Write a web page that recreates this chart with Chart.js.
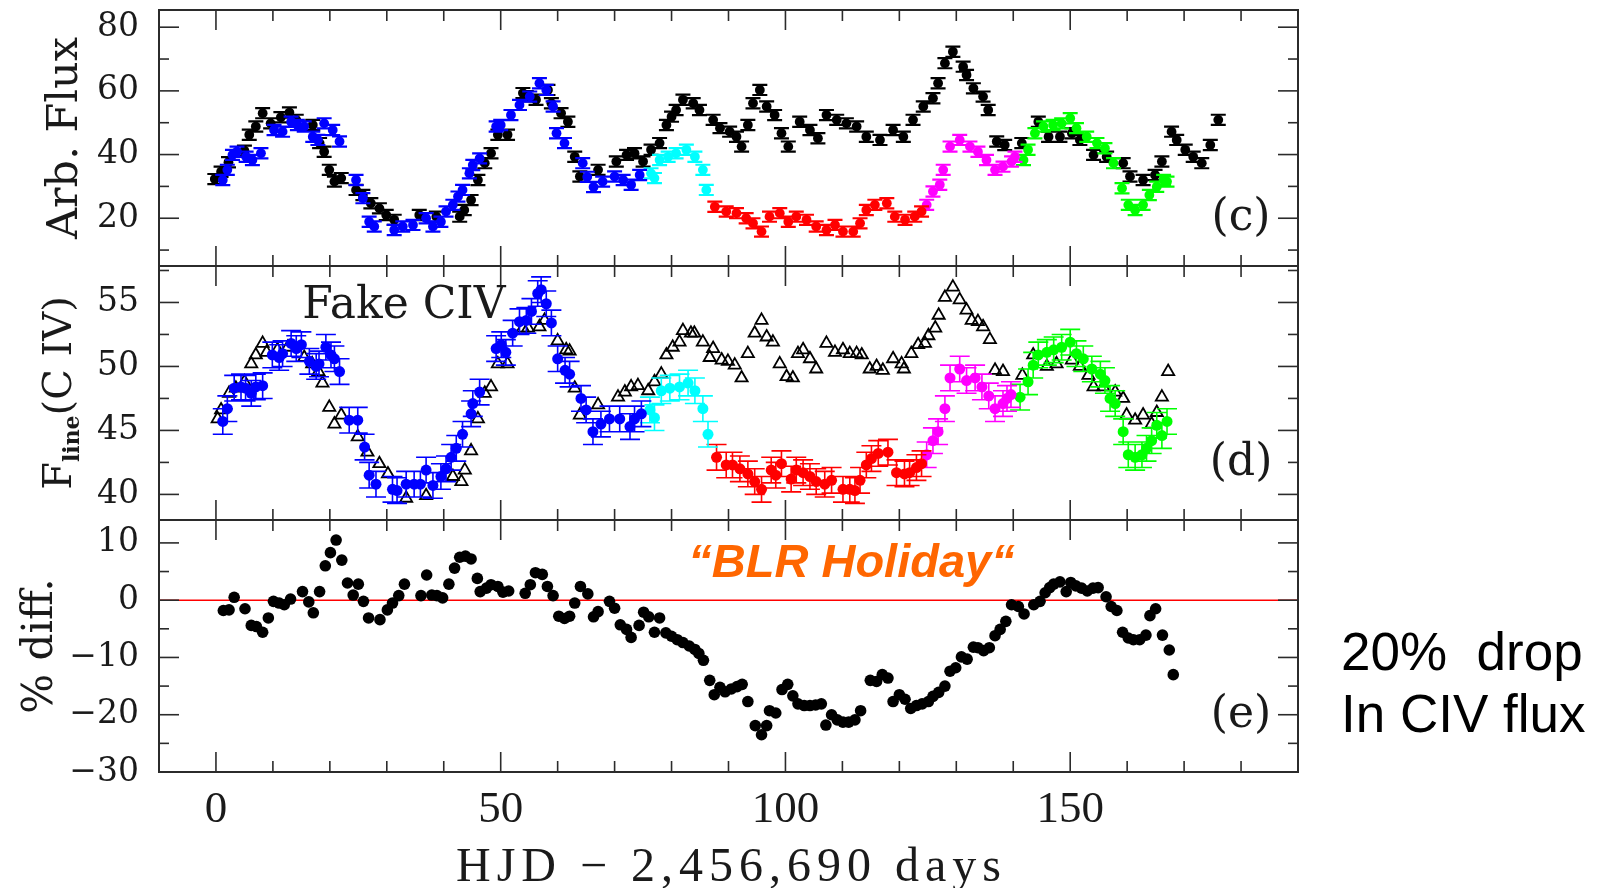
<!DOCTYPE html>
<html><head><meta charset="utf-8">
<script src="https://cdn.jsdelivr.net/npm/chart.js@4/dist/chart.umd.min.js"></script>
<style>html,body{margin:0;padding:0;background:#fff;overflow:hidden}#wrap{position:absolute;left:0;top:0;width:1602px;height:888px}</style>
</head><body><div id="wrap"><canvas id="c" width="1602" height="888"></canvas></div>
<script>
// ---------- tick labels ----------
const xTickValues = [0, 50, 100, 150];
const fluxTickValues = [20, 40, 60, 80];
const civTickValues = [40, 45, 50, 55];
const diffTickValues = [-30, -20, -10, 0, 10];

// ---------- panel (c): Arb. Flux ----------
const contFlux = [[-0.2,32.3],[0.9,34.6],[2.2,37.6],[5.0,41.2],[5.85,46.2],[7.0,48.8],[8.2,53.0],[9.6,49.8],[11.4,51.7],[12.9,53.2],[14.1,50.9],[17.0,49.3],[18.2,43.6],[19.0,40.9],[19.9,35.2],[20.8,31.5],[22.0,32.6],[24.6,28.9],[25.8,27.3],[27.2,24.7],[28.7,23.1],[29.9,21.0],[31.3,19.5],[35.7,21.0],[38.7,20.5],[42.8,20.5],[43.6,22.6],[44.8,25.7],[46.0,32.0],[47.2,37.3],[48.3,40.4],[49.5,46.2],[51.2,46.2],[53.9,59.3],[54.5,58.3],[56.2,57.2],[58.3,60.3],[58.9,56.1],[60.6,53.0],[61.8,50.3],[63.0,39.3],[63.9,33.1],[67.1,35.2],[70.3,37.8],[72.1,39.9],[73.5,40.4],[75.0,37.8],[76.4,41.5],[77.9,43.6],[79.1,49.3],[80.0,51.9],[80.8,54.0],[82.0,57.2],[83.8,56.1],[84.9,54.0],[87.3,50.9],[88.5,48.3],[90.2,47.2],[91.4,45.6],[92.3,42.5],[93.4,49.3],[94.3,56.1],[95.5,60.3],[96.7,55.1],[98.1,52.4],[99.3,46.7],[100.5,42.5],[102.5,50.3],[104.3,47.7],[105.7,45.1],[107.2,52.4],[109.0,50.9],[110.7,49.8],[112.5,48.8],[114.2,45.6],[116.6,44.6],[118.9,47.7],[120.7,45.6],[122.4,50.9],[124.2,55.1],[125.9,57.7],[126.8,62.4],[128.0,68.7],[129.4,72.3],[131.2,67.6],[131.8,65.0],[133.0,60.8],[134.7,58.2],[135.6,54.0],[137.1,44.1],[138.5,43.0],[141.5,43.6],[144.4,50.3],[146.2,45.6],[148.2,45.6],[150.3,46.7],[151.7,44.6],[154.1,39.9],[156.4,39.3],[159.3,37.3],[160.5,33.1],[162.8,32.0],[164.9,33.6],[166.1,37.8],[167.8,47.2],[168.7,44.6],[170.2,41.5],[171.6,39.3],[173.1,37.3],[174.6,43.0],[176.0,50.9]];
const fluxBlue = [[1.2,32.0],[2.0,35.2],[2.9,39.9],[3.7,40.9],[5.3,39.3],[6.4,38.3],[7.9,40.4],[10.2,47.7],[11.7,47.2],[13.2,50.3],[14.3,49.3],[15.5,48.8],[17.0,45.6],[17.9,44.6],[19.0,49.8],[20.5,47.7],[21.7,44.1],[24.6,32.0],[25.8,26.3],[26.9,18.9],[27.8,17.4],[31.3,16.3],[32.8,17.4],[34.6,17.9],[36.9,20.0],[38.1,17.4],[39.5,18.9],[40.4,22.1],[41.6,24.2],[42.5,26.8],[43.3,28.9],[44.5,34.1],[45.1,36.7],[46.3,38.8],[49.2,48.8],[50.0,49.3],[51.8,52.4],[53.3,55.6],[55.1,58.2],[56.8,62.4],[58.0,60.3],[59.2,55.1],[59.8,46.7],[61.2,43.6],[64.4,37.3],[65.2,33.0],[66.3,29.8],[67.9,31.5],[70.0,33.1],[71.5,32.0],[72.9,30.5],[74.4,33.6]];
const fluxCyan = [[76.4,34.1],[77.0,32.6],[77.9,38.3],[79.4,39.3],[80.8,40.4],[82.6,41.5],[84.1,39.3],[85.5,35.2],[86.1,28.9]];
const fluxRed = [[87.6,23.6],[89.6,22.1],[91.4,21.6],[93.1,20.0],[94.3,18.4],[95.8,15.8],[97.2,20.5],[99.0,21.6],[100.5,18.9],[101.9,20.5],[103.7,19.5],[105.4,17.4],[107.2,16.3],[108.7,17.9],[110.1,15.8],[111.9,15.8],[113.1,18.4],[114.2,22.6],[115.7,24.2],[117.8,24.7],[119.2,20.5],[121.0,19.5],[122.7,20.5],[123.9,22.1]];
const fluxMagenta = [[124.8,24.2],[125.9,28.4],[127.1,30.5],[127.7,35.2],[128.9,42.5],[130.6,44.6],[132.4,42.5],[133.8,40.9],[135.3,38.3],[136.8,35.2],[138.2,36.2],[139.7,37.8],[140.3,39.3]];
const fluxGreen = [[141.8,38.3],[142.6,41.5],[143.8,46.7],[145.3,48.8],[147.0,49.3],[148.5,49.8],[150.0,51.4],[151.1,48.3],[152.9,45.6],[154.7,43.6],[156.1,42.0],[157.6,37.3],[159.1,29.4],[160.2,24.2],[161.4,22.6],[162.8,24.2],[163.9,27.3],[165.2,29.9],[166.4,32.0],[167.0,31.5]];

// ---------- panel (d): F_line(C IV) ----------
const civFake = [[0.3,45.9],[0.9,46.6],[2.3,47.9],[3.5,48.3],[5.0,48.8],[6.2,50.2],[7.0,50.9],[8.2,51.8],[8.9,51.1],[10.8,51.3],[12.6,51.5],[15.5,50.7],[16.9,50.2],[18.0,49.6],[18.7,48.7],[19.9,46.8],[20.8,45.5],[22.0,46.2],[24.9,44.5],[26.6,43.3],[28.7,42.4],[30.2,41.6],[33.4,39.7],[36.9,39.9],[41.6,41.4],[43.1,41.0],[43.7,41.9],[44.8,43.4],[46.0,45.9],[47.2,47.9],[48.3,48.4],[49.5,50.2],[51.2,50.2],[53.9,53.0],[54.8,53.0],[56.8,53.1],[57.7,53.6],[60.0,52.0],[61.5,51.3],[62.1,51.2],[63.0,48.3],[63.9,46.2],[67.1,47.0],[70.6,47.6],[71.8,48.0],[72.9,48.4],[74.1,48.5],[75.9,48.1],[77.0,48.8],[78.2,49.4],[79.1,50.9],[80.2,51.5],[81.4,51.9],[82.0,52.8],[83.4,52.6],[84.0,52.6],[85.5,51.9],[86.7,50.7],[87.3,51.4],[88.8,50.5],[89.9,50.4],[91.1,50.1],[92.3,49.1],[93.4,51.0],[94.6,52.6],[95.8,53.6],[96.7,52.3],[97.8,51.9],[99.0,50.2],[100.2,49.2],[101.3,49.1],[102.2,51.0],[103.1,51.3],[104.3,50.6],[105.4,49.8],[107.2,51.8],[108.7,51.1],[110.1,51.3],[111.3,51.0],[112.5,51.0],[113.4,50.9],[114.8,49.8],[116.0,50.0],[117.1,49.7],[118.9,50.6],[120.4,50.2],[120.8,49.8],[122.1,51.0],[123.3,51.7],[124.5,51.8],[125.1,52.4],[126.3,53.0],[126.9,54.0],[128.0,55.4],[129.4,56.2],[130.6,55.2],[131.8,54.4],[132.7,53.6],[133.8,53.5],[134.7,53.1],[135.9,52.1],[136.8,49.7],[138.2,49.6],[141.6,49.3],[143.5,50.9],[145.9,50.0],[147.6,50.2],[150.3,50.5],[151.7,50.0],[153.2,49.3],[154.1,48.4],[155.8,48.4],[157.9,48.0],[159.3,47.5],[159.9,46.2],[161.4,45.8],[162.8,46.2],[164.3,45.5],[165.2,46.4],[166.1,47.6],[167.2,49.6]];
const civBlue = [[1.2,45.7],[2.0,46.7],[3.2,48.3],[4.4,48.4],[5.2,48.3],[6.2,47.9],[7.0,48.4],[8.2,48.5],[9.9,50.9],[11.1,50.7],[11.7,51.0],[13.2,51.8],[14.1,51.4],[15.0,51.7],[16.4,50.4],[17.6,50.0],[18.1,50.2],[19.3,51.5],[20.2,50.9],[20.8,50.6],[21.7,49.6],[23.4,45.8],[24.9,45.8],[26.1,43.7],[26.9,41.5],[28.1,40.8],[31.0,40.4],[31.8,40.3],[33.4,40.8],[34.8,40.8],[35.9,40.8],[36.9,41.9],[38.1,40.7],[39.5,41.4],[40.4,42.0],[41.3,42.9],[42.2,43.6],[43.3,44.7],[44.8,46.3],[45.1,47.1],[46.3,48.0],[49.2,51.4],[50.1,51.7],[50.9,51.1],[52.1,52.6],[53.3,53.5],[54.5,53.6],[55.4,54.3],[56.5,55.7],[57.1,56.0],[58.0,54.9],[58.9,53.4],[60.0,50.6],[61.3,49.7],[62.1,49.4],[64.1,47.5],[65.0,46.6],[66.2,44.9],[67.6,45.5],[69.1,45.9],[70.9,45.9],[72.7,45.3],[73.5,45.9],[74.7,46.3]];
const civCyan = [[76.2,46.6],[77.0,46.0],[78.2,48.1],[79.7,48.3],[81.4,48.4],[82.9,48.7],[84.1,48.1],[85.5,46.7],[86.4,44.7]];
const civRed = [[87.9,42.9],[89.6,42.3],[90.7,42.3],[92.0,42.0],[93.4,41.6],[94.6,41.0],[95.8,40.4],[97.5,41.9],[98.3,41.5],[99.3,42.4],[101.0,41.2],[101.9,41.9],[103.1,41.7],[104.3,41.4],[105.4,41.0],[106.9,40.8],[108.1,41.1],[110.1,40.4],[111.3,40.4],[112.2,40.3],[113.1,41.1],[114.2,42.3],[115.1,42.8],[116.3,43.2],[118.0,43.3],[119.5,41.7],[120.9,41.6],[121.8,41.7],[123.0,42.1],[123.9,42.4]];
const civMagenta = [[124.8,43.1],[125.9,44.2],[126.8,44.9],[128.0,46.7],[128.9,49.1],[130.6,49.8],[131.8,48.9],[133.3,49.1],[134.5,48.4],[135.7,47.7],[136.8,46.7],[138.2,47.1],[138.9,47.5],[139.6,47.8]];
const civGreen = [[141.2,47.6],[142.6,48.8],[143.5,50.1],[144.4,50.9],[145.9,51.1],[147.1,51.3],[148.5,51.5],[150.0,51.9],[151.1,51.0],[152.3,50.6],[153.8,49.8],[155.3,49.4],[156.1,48.9],[157.0,47.5],[157.9,47.1],[159.3,44.9],[160.2,43.1],[161.4,42.9],[162.6,43.1],[163.4,43.6],[164.3,44.2],[165.2,45.4],[166.1,44.6],[167.0,45.7]];

// ---------- panel (e): % diff. ----------
const pctDiff = [[1.3,-1.8],[2.3,-1.7],[3.2,0.5],[5.1,-1.5],[6.2,-4.4],[7.1,-4.6],[8.2,-5.6],[9.2,-3.1],[10.1,-0.2],[11.1,-0.5],[12.0,-0.8],[13.1,0.2],[15.2,1.5],[16.3,-0.3],[17.1,-2.2],[18.2,1.5],[19.2,6.0],[20.1,8.3],[21.1,10.5],[22.1,7.0],[23.1,3.0],[24.1,0.9],[25.0,2.8],[25.9,-0.2],[26.8,-3.1],[28.8,-3.4],[30.1,-1.7],[31.0,-0.5],[32.1,0.8],[33.1,2.8],[36.0,0.8],[37.0,4.4],[37.9,0.9],[38.8,0.8],[39.8,0.4],[40.9,2.8],[41.9,5.6],[42.8,7.5],[43.8,7.7],[44.8,7.2],[45.9,3.8],[46.4,1.5],[47.5,2.1],[48.3,2.7],[49.5,2.4],[50.4,1.4],[51.4,1.6],[54.3,1.2],[55.2,2.7],[56.1,4.8],[57.3,4.5],[58.2,2.4],[59.2,0.8],[60.2,-2.8],[61.2,-3.2],[62.1,-2.8],[63.0,-0.5],[64.0,2.4],[65.3,1.1],[66.3,-2.9],[67.1,-2.0],[69.1,-0.2],[70.0,-1.4],[71.0,-4.3],[72.1,-5.1],[72.9,-6.5],[74.3,-4.4],[75.1,-2.1],[76.0,-2.9],[77.0,-5.6],[77.9,-3.1],[79.0,-5.7],[80.0,-6.3],[81.0,-6.9],[82.0,-7.4],[83.1,-8.0],[84.1,-8.6],[84.8,-9.3],[85.6,-10.5],[86.7,-14.0],[87.5,-16.5],[88.5,-15.2],[89.4,-16.0],[90.5,-15.5],[91.5,-15.1],[92.4,-14.7],[93.4,-17.7],[94.7,-21.9],[95.8,-23.5],[96.7,-21.9],[97.2,-19.3],[98.3,-19.7],[99.4,-15.6],[100.4,-14.7],[101.3,-16.7],[102.2,-18.1],[103.3,-18.4],[104.3,-18.4],[105.3,-18.3],[106.3,-18.1],[107.1,-21.8],[108.1,-20.0],[109.1,-20.9],[110.1,-21.3],[111.1,-21.3],[112.2,-20.9],[113.2,-19.3],[114.9,-14.0],[116.0,-14.2],[117.0,-13.0],[118.0,-13.6],[118.9,-17.7],[120.0,-16.5],[121.0,-17.3],[122.0,-18.9],[123.0,-18.4],[124.0,-18.1],[125.1,-17.7],[125.9,-16.8],[126.9,-16.1],[128.0,-15.0],[128.9,-12.4],[129.9,-11.8],[130.9,-9.9],[131.9,-10.3],[133.0,-8.2],[133.8,-8.3],[134.8,-8.8],[135.8,-8.3],[136.8,-6.2],[137.7,-5.1],[138.7,-3.7],[139.7,-0.8],[140.9,-1.1],[141.9,-2.4],[143.6,-0.8],[144.7,-0.2],[145.6,1.3],[146.4,2.2],[147.1,2.8],[148.2,3.2],[149.3,1.5],[150.1,3.1],[151.0,2.5],[152.0,2.1],[153.0,1.6],[154.0,2.1],[154.9,2.2],[156.3,0.6],[157.2,-1.1],[158.2,-1.8],[159.2,-5.6],[160.2,-6.6],[161.1,-6.9],[162.2,-6.9],[163.3,-6.1],[164.0,-2.7],[165.0,-1.5],[166.2,-6.1],[167.4,-8.7],[168.1,-13.0]];
const zeroLine = [[-10,0],[190,0]];

// error half-ranges (data units)
const errFlux = 1.6;
const errCiv = 1.0;

// ---------- build ----------
const P = a => a.map(([x, y]) => ({x, y}));
const BLUE = '#0000ff', CYAN = '#00ffff', RED = '#ff0000', MAG = '#ff00ff', GREEN = '#00ff00', BLACK = '#000000';

function errSet(label, arr, color, yAxisID, err, cap, radius, order, lw) {
  return {label, data: P(arr), yAxisID, backgroundColor: color, borderColor: color,
    pointRadius: radius, pointHoverRadius: radius, borderWidth: 0,
    errorBar: err, errorCap: cap, errorWidth: lw, order};
}

const datasets = [
  errSet('Flux cont', contFlux, BLACK, 'yC', errFlux, 7.5, 4.9, 3, 2.2),
  errSet('Flux 1', fluxBlue, BLUE, 'yC', errFlux, 7.5, 4.9, 1, 2.2),
  errSet('Flux 2', fluxCyan, CYAN, 'yC', errFlux, 7.5, 4.9, 1, 2.2),
  errSet('Flux 3', fluxRed, RED, 'yC', errFlux, 7.5, 4.9, 1, 2.2),
  errSet('Flux 4', fluxMagenta, MAG, 'yC', errFlux, 7.5, 4.9, 1, 2.2),
  errSet('Flux 5', fluxGreen, GREEN, 'yC', errFlux, 7.5, 4.9, 1, 2.2),
  {label: 'Fake CIV', data: P(civFake), yAxisID: 'yD', pointStyle: 'triangle', pointRadius: 7, pointHoverRadius: 7,
    borderColor: '#000', backgroundColor: 'rgba(255,255,255,0)', borderWidth: 1.8, order: 3},
  errSet('CIV 1', civBlue, BLUE, 'yD', errCiv, 10, 5.5, 1, 1.6),
  errSet('CIV 2', civCyan, CYAN, 'yD', errCiv, 10, 5.5, 1, 1.6),
  errSet('CIV 3', civRed, RED, 'yD', errCiv, 10, 5.5, 1, 1.6),
  errSet('CIV 4', civMagenta, MAG, 'yD', errCiv, 10, 5.5, 1, 1.6),
  errSet('CIV 5', civGreen, GREEN, 'yD', errCiv, 10, 5.5, 1, 1.6),
  {label: 'zero', data: P(zeroLine), yAxisID: 'yE', showLine: true, borderColor: '#ff0000', borderWidth: 1.6,
    pointRadius: 0, pointHoverRadius: 0, order: 5},
  {label: '% diff', data: P(pctDiff), yAxisID: 'yE', backgroundColor: '#000', borderColor: '#000',
    pointRadius: 5.8, pointHoverRadius: 5.8, borderWidth: 0, order: 2}
];

function yScale(min, max, ticks, weight, stackWeight) {
  return {
    type: 'linear', position: 'left', stack: 'panels', stackWeight, weight, min, max,
    grid: {display: false, drawTicks: false}, border: {display: false},
    ticks: {font: {family: 'DejaVu Serif', size: 33}, color: '#1a1a1a', padding: 20, autoSkip: false,
      callback: v => v < 0 ? '\u2212' + Math.abs(v) : String(v)},
    afterBuildTicks: s => { s.ticks = ticks.map(v => ({value: v})); },
    afterFit: s => { s.width = 159; s.paddingTop = 0; s.paddingBottom = 0; }
  };
}

const decor = {
  id: 'decor',
  beforeDatasetDraw(chart, args) {
    const ds = chart.data.datasets[args.index];
    if (!ds.errorBar) return;
    const ys = chart.scales[ds.yAxisID], ctx = chart.ctx, cap = ds.errorCap;
    ctx.save();
    ctx.strokeStyle = ds.borderColor; ctx.lineWidth = ds.errorWidth || 1.5;
    ctx.beginPath();
    args.meta.data.forEach((el, i) => {
      const v = ds.data[i].y, x = el.x;
      const y1 = ys.getPixelForValue(v + ds.errorBar), y2 = ys.getPixelForValue(v - ds.errorBar);
      ctx.moveTo(x, y1); ctx.lineTo(x, y2);
      ctx.moveTo(x - cap, y1); ctx.lineTo(x + cap, y1);
      ctx.moveTo(x - cap, y2); ctx.lineTo(x + cap, y2);
    });
    ctx.stroke(); ctx.restore();
  },
  afterDraw(chart) {
    const ctx = chart.ctx, xs = chart.scales.x, ca = chart.chartArea;
    const yC = chart.scales.yC, yD = chart.scales.yD, yE = chart.scales.yE;
    const panels = [{s: yC, minor: 10, major: 20}, {s: yD, minor: 2.5, major: 5}, {s: yE, minor: 5, major: 10}];
    const line = (x1, y1, x2, y2) => { ctx.beginPath(); ctx.moveTo(x1, y1); ctx.lineTo(x2, y2); ctx.stroke(); };
    ctx.save();
    ctx.strokeStyle = '#2b2b2b';
    panels.forEach(p => {
      const s = p.s, top = s.top, bot = s.bottom;
      ctx.lineWidth = 1.6;
      const start = Math.ceil(s.min / p.minor) * p.minor;
      for (let v = start; v <= s.max + 1e-9; v += p.minor) {
        const y = s.getPixelForValue(v);
        if (y <= top + 1.5 || y >= bot - 1.5) continue;
        const r = v / p.major, len = Math.abs(r - Math.round(r)) < 1e-6 ? 20 : 10;
        line(ca.left, y, ca.left + len, y);
        line(ca.right, y, ca.right - len, y);
      }
      for (let v = 0; v < xs.max; v += 10) {
        const x = xs.getPixelForValue(v), len = v % 50 === 0 ? 20 : 11;
        line(x, top, x, top + len);
        line(x, bot, x, bot - len);
      }
      ctx.lineWidth = 2;
      ctx.strokeRect(ca.left, top, ca.right - ca.left, bot - top);
    });
    ctx.restore();

    // texts
    ctx.save();
    ctx.fillStyle = '#1a1a1a';
    const vtext = (txt, x, y, font) => {
      ctx.save(); ctx.translate(x, y); ctx.rotate(-Math.PI / 2);
      ctx.font = font; ctx.textAlign = 'center'; ctx.textBaseline = 'alphabetic';
      ctx.fillText(txt, 0, 0); ctx.restore();
    };
    vtext('Arb. Flux', 77, (yC.top + yC.bottom) / 2, '43px "DejaVu Serif"');
    vtext('% diff.', 52, (yE.top + yE.bottom) / 2, '42px "DejaVu Serif"');
    // F_line(C IV)
    {
      const cy = (yD.top + yD.bottom) / 2, bx = 71;
      const big = '40px "DejaVu Serif"', small = 'bold 22px "DejaVu Serif"';
      ctx.font = big; const wF = ctx.measureText('F').width, wR = ctx.measureText('(C IV)').width;
      ctx.font = small; const wS = ctx.measureText('line').width;
      const tot = wF + wS + wR;
      ctx.save(); ctx.translate(bx, cy); ctx.rotate(-Math.PI / 2);
      ctx.textAlign = 'left'; ctx.textBaseline = 'alphabetic';
      let t = -tot / 2;
      ctx.font = big; ctx.fillText('F', t, 0); t += wF;
      ctx.font = small; ctx.fillText('line', t, 8); t += wS;
      ctx.font = big; ctx.fillText('(C IV)', t, 0);
      ctx.restore();
    }
    // x-axis title
    ctx.font = '48px "Liberation Serif"';
    ctx.textAlign = 'center'; ctx.textBaseline = 'alphabetic';
    try { ctx.letterSpacing = '6px'; } catch (e) {}
    ctx.fillText('HJD \u2212 2,456,690 days', (ca.left + ca.right) / 2 + 3, 881);
    try { ctx.letterSpacing = '0px'; } catch (e) {}
    // panel letters
    ctx.font = '44px "DejaVu Serif"';
    ctx.fillText('(c)', xs.getPixelForValue(180), yC.getPixelForValue(16.3));
    ctx.fillText('(d)', xs.getPixelForValue(180), yD.getPixelForValue(41.5));
    ctx.fillText('(e)', xs.getPixelForValue(180), yE.getPixelForValue(-22.1));
    ctx.fillText('Fake CIV', xs.getPixelForValue(33), yD.getPixelForValue(53.8));
    // BLR holiday
    ctx.fillStyle = '#ff6600';
    ctx.font = 'italic bold 47px "Liberation Sans"';
    ctx.fillText('\u201CBLR Holiday\u201C', xs.getPixelForValue(111.6), yE.getPixelForValue(4.06));
    // side note
    ctx.fillStyle = '#000';
    ctx.font = '53px "Liberation Sans"';
    ctx.textAlign = 'left';
    ctx.fillText('20%  drop', 1341, 670);
    ctx.fillText('In CIV flux', 1341, 732);
    ctx.restore();
  }
};

new Chart(document.getElementById('c'), {
  type: 'scatter',
  data: {datasets},
  plugins: [decor],
  options: {
    responsive: false, animation: false, devicePixelRatio: 1, events: [],
    layout: {padding: {left: 0, top: 10, right: 304, bottom: 0}},
    plugins: {legend: {display: false}, tooltip: {enabled: false}, title: {display: false}},
    scales: {
      x: {
        type: 'linear', position: 'bottom', min: -10, max: 190,
        grid: {display: false, drawTicks: false}, border: {display: false},
        ticks: {font: {family: 'Liberation Serif', size: 45}, color: '#1a1a1a', padding: 11, maxRotation: 0, autoSkip: false},
        afterBuildTicks: s => { s.ticks = xTickValues.map(v => ({value: v})); },
        afterFit: s => { s.height = 116; s.paddingLeft = 0; s.paddingRight = 0; }
      },
      yC: yScale(5, 85.4, fluxTickValues, 3, 256),
      yD: yScale(38, 57.85, civTickValues, 2, 254),
      yE: yScale(-30, 14, diffTickValues, 1, 252)
    }
  }
});
</script></body></html>
